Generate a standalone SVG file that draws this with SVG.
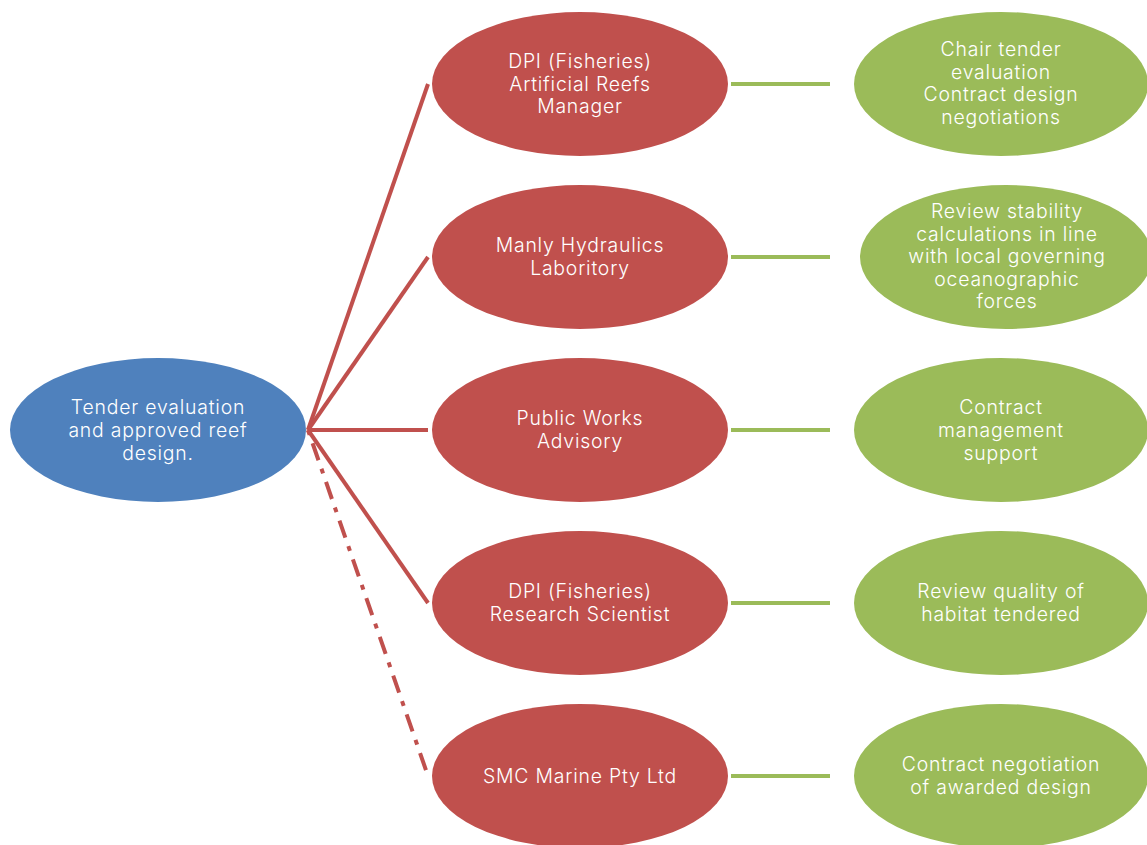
<svg xmlns="http://www.w3.org/2000/svg" width="1147" height="845" viewBox="0 0 1147 845">
<style>
.blue{fill:#4f81bd}
.red{fill:#c0504d}
.green{fill:#9bbb59}
text{font-family:Inter,"Open Sans","Liberation Sans",sans-serif;font-size:19.4px;letter-spacing:0.8px;font-weight:300;fill:#ffffff;text-anchor:middle}
.rl{stroke:#c0504d;stroke-width:4;fill:none}
.gl{stroke:#9bbb59;stroke-width:4;fill:none}
</style>
<rect width="1147" height="845" fill="#ffffff"/>
<g id="connectors">
<line class="rl" x1="308" y1="430" x2="428" y2="84"/>
<line class="rl" x1="308" y1="430" x2="428" y2="257"/>
<line class="rl" x1="308" y1="430" x2="428" y2="430"/>
<line class="rl" x1="308" y1="430" x2="428" y2="603"/>
<line class="rl" x1="308" y1="430" x2="428" y2="776" stroke-dasharray="18,9,5,9" stroke-dashoffset="-14"/>
<line class="gl" x1="731" y1="84" x2="830" y2="84"/>
<line class="gl" x1="731" y1="257" x2="830" y2="257"/>
<line class="gl" x1="731" y1="430" x2="830" y2="430"/>
<line class="gl" x1="731" y1="603" x2="830" y2="603"/>
<line class="gl" x1="731" y1="776" x2="830" y2="776"/>
</g>
<g id="root"><ellipse class="blue" cx="158" cy="430" rx="148" ry="72"/>
<text x="158" y="414">Tender evaluation</text><text x="158" y="437">and approved reef</text><text x="158" y="460">design.</text></g>
<g id="r1"><ellipse class="red" cx="580" cy="84" rx="148" ry="72"/>
<text x="580" y="68">DPI (Fisheries)</text><text x="580" y="91">Artificial Reefs</text><text x="580" y="113">Manager</text></g>
<g id="r2"><ellipse class="red" cx="580" cy="257" rx="148" ry="72"/>
<text x="580" y="252">Manly Hydraulics</text><text x="580" y="275">Laboritory</text></g>
<g id="r3"><ellipse class="red" cx="580" cy="430" rx="148" ry="72"/>
<text x="580" y="425">Public Works</text><text x="580" y="448">Advisory</text></g>
<g id="r4"><ellipse class="red" cx="580" cy="603" rx="148" ry="72"/>
<text x="580" y="598">DPI (Fisheries)</text><text x="580" y="621">Research Scientist</text></g>
<g id="r5"><ellipse class="red" cx="580" cy="776" rx="148" ry="72"/>
<text x="580" y="783">SMC Marine Pty Ltd</text></g>
<g id="g1"><ellipse class="green" cx="1001" cy="84" rx="147" ry="72"/>
<text x="1001" y="56">Chair tender</text><text x="1001" y="79">evaluation</text><text x="1001" y="101">Contract design</text><text x="1001" y="124">negotiations</text></g>
<g id="g2"><ellipse class="green" cx="1006" cy="257" rx="146" ry="72"/>
<text x="1007" y="218">Review stability</text><text x="1007" y="241">calculations in line</text><text x="1007" y="263">with local governing</text><text x="1007" y="286">oceanographic</text><text x="1007" y="308">forces</text></g>
<g id="g3"><ellipse class="green" cx="1001" cy="430" rx="147" ry="72"/>
<text x="1001" y="414">Contract</text><text x="1001" y="437">management</text><text x="1001" y="460">support</text></g>
<g id="g4"><ellipse class="green" cx="1001" cy="603" rx="147" ry="72"/>
<text x="1001" y="598">Review quality of</text><text x="1001" y="621">habitat tendered</text></g>
<g id="g5"><ellipse class="green" cx="1001" cy="776" rx="147" ry="72"/>
<text x="1001" y="771">Contract negotiation</text><text x="1001" y="794">of awarded design</text></g>
</svg>
